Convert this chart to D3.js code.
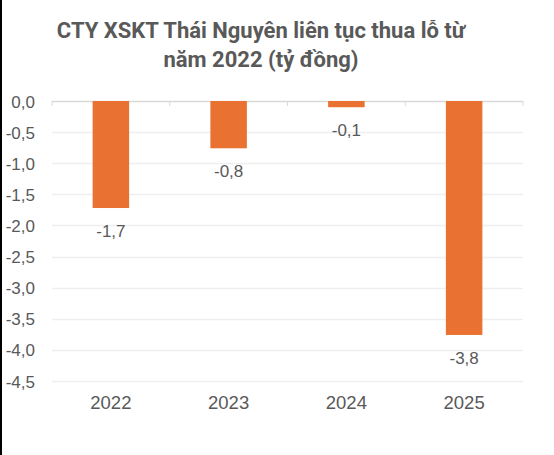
<!DOCTYPE html>
<html>
<head>
<meta charset="utf-8">
<script src="https://cdn.jsdelivr.net/npm/d3@7"></script>
<style>
  body { margin: 0; background: #fff; }
  svg { display: block; }
</style>
</head>
<body>
<div id="chart"></div>
<script>
// data
var years = ["2022", "2023", "2024", "2025"];
var losses = [-1.72, -0.76, -0.1, -3.76];
var lossLabels = ["-1,7", "-0,8", "-0,1", "-3,8"];
var yTicks = [0, -0.5, -1, -1.5, -2, -2.5, -3, -3.5, -4, -4.5];
var titleLines = ["CTY XSKT Thái Nguyên liên tục thua lỗ từ", "năm 2022 (tỷ đồng)"];

var chartWidth = 554, chartHeight = 455;
var plotLeft = 52, plotRight = 523, plotTop = 101, plotBottom = 381;
var barColour = "#E97132";
var textColour = "#595959";

var svg = d3.select("#chart").append("svg")
    .attr("width", chartWidth)
    .attr("height", chartHeight);

svg.append("rect")
    .attr("width", chartWidth).attr("height", chartHeight)
    .style("fill", "#fff");
// left frame edge
svg.append("line")
    .attr("x1", 1).attr("y1", 0).attr("x2", 1).attr("y2", chartHeight)
    .style("stroke", "#000").style("stroke-width", 2);

// title
svg.selectAll("text.title")
    .data(titleLines).enter()
    .append("text")
    .attr("class", "title")
    .text(function(d) { return d; })
    .attr("x", 261)
    .attr("y", function(d, i) { return 38 + i * 29; })
    .attr("text-anchor", "middle")
    .style("font-family", "Roboto, sans-serif")
    .style("font-weight", "bold")
    .style("font-size", "22px")
    .style("fill", textColour);

var x = d3.scaleBand()
    .domain(years)
    .range([plotLeft, plotRight])
    .paddingInner(0.69)
    .paddingOuter(0.345);
var y = d3.scaleLinear()
    .domain([0, -4.5])
    .range([plotTop, plotBottom]);

// gridlines
svg.selectAll("line.grid")
    .data(yTicks).enter()
    .append("line")
    .attr("class", "grid")
    .attr("x1", plotLeft).attr("x2", plotRight)
    .attr("y1", function(d) { return Math.round(y(d)) + 0.5; })
    .attr("y2", function(d) { return Math.round(y(d)) + 0.5; })
    .style("stroke", function(d) { return d === 0 ? "#d9d9d9" : "#efefef"; })
    .style("stroke-width", 1.5);

// y axis labels
var fmt = function(d) { return d3.format(".1f")(d).replace(".", ",").replace("−", "-"); };
svg.selectAll("text.ylab")
    .data(yTicks).enter()
    .append("text")
    .attr("class", "ylab")
    .text(function(d) { return d === 0 ? "0,0" : fmt(d); })
    .attr("x", 35)
    .attr("y", function(d) { return y(d) + 6.5; })
    .attr("text-anchor", "end")
    .style("font-family", "'Liberation Sans', Arial, sans-serif")
    .style("font-size", "17px")
    .style("fill", textColour);

// bars
svg.selectAll("rect.bar")
    .data(losses).enter()
    .append("rect")
    .attr("class", "bar")
    .attr("x", function(d, i) { return x(years[i]); })
    .attr("y", y(0))
    .attr("width", x.bandwidth())
    .attr("height", function(d) { return y(d) - y(0); })
    .style("fill", barColour);

// zero line ticks at category edges
var step = x.step();
svg.selectAll("line.tick")
    .data(d3.range(years.length + 1)).enter()
    .append("line")
    .attr("class", "tick")
    .attr("x1", function(d) { return plotLeft + d * step; })
    .attr("x2", function(d) { return plotLeft + d * step; })
    .attr("y1", y(0))
    .attr("y2", y(0) + 5)
    .style("stroke", "#d9d9d9")
    .style("stroke-width", 1);

// value labels
svg.selectAll("text.val")
    .data(losses).enter()
    .append("text")
    .attr("class", "val")
    .text(function(d, i) { return lossLabels[i]; })
    .attr("x", function(d, i) { return x(years[i]) + x.bandwidth() / 2; })
    .attr("y", function(d) { return y(d) + 29; })
    .attr("text-anchor", "middle")
    .style("font-family", "'Liberation Sans', Arial, sans-serif")
    .style("font-size", "17px")
    .style("fill", textColour);

// x axis labels
svg.selectAll("text.xlab")
    .data(years).enter()
    .append("text")
    .attr("class", "xlab")
    .text(function(d) { return d; })
    .attr("x", function(d) { return x(d) + x.bandwidth() / 2; })
    .attr("y", 409)
    .attr("text-anchor", "middle")
    .style("font-family", "'Liberation Sans', Arial, sans-serif")
    .style("font-size", "18.5px")
    .style("fill", textColour);
</script>
</body>
</html>
